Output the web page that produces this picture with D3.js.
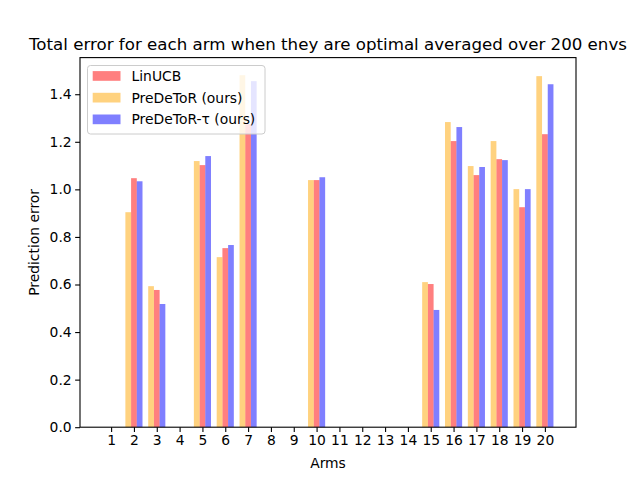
<!DOCTYPE html>
<html>
<head>
<meta charset="utf-8">
<script src="https://cdn.jsdelivr.net/npm/d3@7"></script>
<style>
  html, body { margin: 0; padding: 0; background: #fff; }
  svg { display: block; font-family: "DejaVu Sans", sans-serif; }
</style>
</head>
<body>
<svg id="chart" width="640" height="480"></svg>
<script>
const arms = [1,2,3,4,5,6,7,8,9,10,11,12,13,14,15,16,17,18,19,20];
const linucb =  [0, 1.047, 0.577, 0, 1.102, 0.753, 1.274, 0, 0, 1.039, 0, 0, 0, 0, 0.602, 1.203, 1.060, 1.127, 0.925, 1.232];
const predetor = [0, 0.904, 0.593, 0, 1.119, 0.715, 1.480, 0, 0, 1.039, 0, 0, 0, 0, 0.610, 1.283, 1.098, 1.203, 1.001, 1.476];
const predetorTau = [0, 1.034, 0.518, 0, 1.140, 0.766, 1.455, 0, 0, 1.051, 0, 0, 0, 0, 0.493, 1.262, 1.094, 1.123, 1.001, 1.442];
const yTicks = [0.0, 0.2, 0.4, 0.6, 0.8, 1.0, 1.2, 1.4];
const seriesNames = ["LinUCB", "PreDeToR (ours)", "PreDeToR-\u03c4 (ours)"];
const seriesColors = ["#ff0000", "#ffa500", "#0000ff"];
const seriesOffsets = [0, -1, 1];
const series = [linucb, predetor, predetorTau];

const W = 640, H = 480;
const mLeft = 80, mRight = 576, mTop = 57.6, mBottom = 427.2;
const barW = 0.25;

const svg = d3.select("#chart");

const xmin = arms[0] - 1.5*barW, xmax = arms[arms.length-1] + 1.5*barW;
const xm = 0.05*(xmax - xmin);
const x = d3.scaleLinear().domain([xmin - xm, xmax + xm]).range([mLeft, mRight]);
const ymax = d3.max(series.flat()) * 1.05;
const y = d3.scaleLinear().domain([0, ymax]).range([mBottom, mTop]);

// bars
series.forEach((vals, si) => {
  svg.append("g").selectAll("rect").data(vals.map((v,i)=>({arm: arms[i], v})))
    .join("rect")
    .attr("x", d => x(d.arm + seriesOffsets[si]*barW - barW/2))
    .attr("width", d => x(d.arm + barW/2) - x(d.arm - barW/2))
    .attr("y", d => y(d.v))
    .attr("height", d => y(0) - y(d.v))
    .attr("fill", seriesColors[si])
    .attr("fill-opacity", 0.5);
});

// axes
const xAxis = d3.axisBottom(x).tickValues(arms).tickFormat(d3.format("d")).tickSizeOuter(0).tickSize(4.86).tickPadding(3.5);
const gx = svg.append("g").attr("transform", `translate(0,${mBottom})`).call(xAxis);
gx.select(".domain").remove();
gx.selectAll("text").attr("font-size", 13.89).attr("font-family", "DejaVu Sans").attr("fill", "#000");
gx.selectAll("line").attr("stroke", "#000").attr("stroke-width", 1.1);

const yAxis = d3.axisLeft(y).tickValues(yTicks).tickFormat(d3.format(".1f")).tickSizeOuter(0).tickSize(4.86).tickPadding(3.5);
const gy = svg.append("g").attr("transform", `translate(${mLeft},0)`).call(yAxis);
gy.select(".domain").remove();
gy.selectAll("text").attr("font-size", 13.89).attr("font-family", "DejaVu Sans").attr("fill", "#000");
gy.selectAll("line").attr("stroke", "#000").attr("stroke-width", 1.1);

// frame
svg.append("rect").attr("x", mLeft).attr("y", mTop).attr("width", mRight-mLeft).attr("height", mBottom-mTop)
  .attr("fill", "none").attr("stroke", "#000").attr("stroke-width", 1.1);

// title & labels
svg.append("text").attr("x", (mLeft+mRight)/2).attr("y", 49.5).attr("text-anchor", "middle")
  .attr("font-size", 16.67).attr("fill", "#000")
  .text("Total error for each arm when they are optimal averaged over 200 envs");
svg.append("text").attr("x", (mLeft+mRight)/2).attr("y", 467.5).attr("text-anchor", "middle")
  .attr("font-size", 13.89).attr("fill", "#000").text("Arms");
svg.append("text").attr("transform", `translate(39,${(mTop+mBottom)/2}) rotate(-90)`).attr("text-anchor", "middle")
  .attr("font-size", 13.89).attr("fill", "#000").text("Prediction error");

// legend
const lg = svg.append("g");
lg.append("rect").attr("x", 87.5).attr("y", 65.5).attr("width", 177.5).attr("height", 68.5)
  .attr("rx", 3).attr("ry", 3).attr("fill", "#fff").attr("fill-opacity", 0.8)
  .attr("stroke", "#cccccc").attr("stroke-width", 1);
seriesNames.forEach((name, i) => {
  const cy = 76 + i*21.7;
  lg.append("rect").attr("x", 92.7).attr("y", cy - 4.9).attr("width", 27.8).attr("height", 9.7)
    .attr("fill", seriesColors[i]).attr("fill-opacity", 0.5);
  lg.append("text").attr("x", 131.5).attr("y", cy + 5).attr("font-size", 13.89).attr("fill", "#000").text(name);
});
</script>
</body>
</html>
